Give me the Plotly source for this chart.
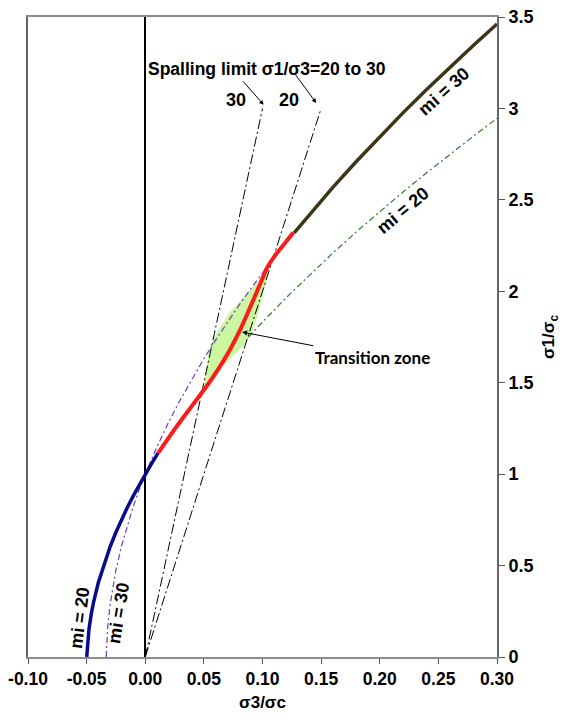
import plotly.graph_objects as go

# ---- data ----
x_tick_vals = [-0.10, -0.05, 0.00, 0.05, 0.10, 0.15, 0.20, 0.25, 0.30]
x_tick_text = ["-0.10", "-0.05", "0.00", "0.05", "0.10", "0.15", "0.20", "0.25", "0.30"]
y_tick_vals = [0, 0.5, 1, 1.5, 2, 2.5, 3, 3.5]
y_tick_text = ["0", "0.5", "1", "1.5", "2", "2.5", "3", "3.5"]

# mi = 20 solid (navy) part
mi20_low_x = [-0.0499, -0.049, -0.048, -0.046, -0.044, -0.040, -0.035, -0.030, -0.025,
              -0.020, -0.015, -0.010, -0.005, 0.000, 0.005, 0.011]
mi20_low_y = [0.0, 0.092, 0.152, 0.237, 0.302, 0.407, 0.513, 0.603, 0.682,
              0.755, 0.822, 0.884, 0.944, 1.000, 1.054, 1.116]

# mi = 20 dash-dot (green) part
mi20_high_x = [0.088, 0.10, 0.12, 0.14, 0.16, 0.18, 0.20, 0.22, 0.24, 0.26, 0.28, 0.30]
mi20_high_y = [1.749, 1.832, 1.964, 2.089, 2.209, 2.325, 2.436, 2.544, 2.648, 2.750, 2.849, 2.946]

# mi = 30 dash-dot (purple) curve
mi30_x = [-0.0333, -0.033, -0.032, -0.030, -0.028, -0.025, -0.020, -0.015, -0.010, -0.005,
          0.000, 0.010, 0.020, 0.030, 0.040, 0.050, 0.060, 0.070, 0.080, 0.090, 0.100,
          0.120, 0.140, 0.160, 0.180, 0.200, 0.220, 0.240, 0.260, 0.280, 0.300]
mi30_y = [0.0, 0.067, 0.168, 0.286, 0.372, 0.475, 0.613, 0.727, 0.827, 0.917,
          1.000, 1.150, 1.285, 1.408, 1.523, 1.631, 1.733, 1.831, 1.924, 2.014, 2.100,
          2.265, 2.420, 2.568, 2.710, 2.846, 2.977, 3.104, 3.227, 3.346, 3.462]

# mi = 30 solid (dark) part
mi30_high_x = [0.127, 0.14, 0.16, 0.18, 0.20, 0.22, 0.24, 0.26, 0.28, 0.30]
mi30_high_y = [2.320, 2.420, 2.568, 2.710, 2.846, 2.977, 3.104, 3.227, 3.346, 3.462]

# transition path (red)
trans_x = [0.011, 0.025, 0.040, 0.052, 0.062, 0.072, 0.081, 0.090, 0.098, 0.104, 0.110, 0.118, 0.1263]
trans_y = [1.116, 1.245, 1.375, 1.478, 1.572, 1.678, 1.790, 1.920, 2.040, 2.130, 2.190, 2.255, 2.322]

# transition zone (green lens)
zone_x = [0.1056, 0.1041, 0.0956, 0.0913, 0.0842, 0.0714, 0.0543, 0.0500,
          0.0543, 0.0600, 0.0714, 0.0985, 0.1056]
zone_y = [2.134, 2.071, 1.861, 1.779, 1.706, 1.624, 1.515, 1.478,
          1.679, 1.761, 1.880, 2.071, 2.134]

# spalling limits sigma1/sigma3 = 30 and 20
spall30_x = [0.0, 0.10]
spall30_y = [0.0, 3.0]
spall20_x = [0.0, 0.15]
spall20_y = [0.0, 3.0]

FONT = "Liberation Sans"

fig = go.Figure()
fig.add_trace(go.Scatter(x=zone_x, y=zone_y, mode="lines", fill="toself",
                         fillcolor="#ccf7a0", line=dict(width=0, color="#ccf7a0")))
fig.add_trace(go.Scatter(x=spall30_x, y=spall30_y, mode="lines",
                         line=dict(color="black", width=1, dash="10px,3px,2px,3px")))
fig.add_trace(go.Scatter(x=spall20_x, y=spall20_y, mode="lines",
                         line=dict(color="black", width=1, dash="10px,3px,2px,3px")))
fig.add_trace(go.Scatter(x=mi30_x, y=mi30_y, mode="lines",
                         line=dict(color="#6a3cc8", width=1.2, dash="6px,3px,2px,3px")))
fig.add_trace(go.Scatter(x=mi20_high_x, y=mi20_high_y, mode="lines",
                         line=dict(color="#2e7d32", width=1.2, dash="6px,3px,2px,3px")))
fig.add_trace(go.Scatter(x=mi20_low_x, y=mi20_low_y, mode="lines",
                         line=dict(color="#0a0a8c", width=3.5)))
fig.add_trace(go.Scatter(x=trans_x, y=trans_y, mode="lines",
                         line=dict(color="#ff1a1a", width=4, shape="spline", smoothing=0.8)))
fig.add_trace(go.Scatter(x=mi30_high_x, y=mi30_high_y, mode="lines",
                         line=dict(color="#3a3616", width=3.5)))

bold = dict(family=FONT, size=18, color="black", weight="bold")

annots = [
    dict(x=0.1039, y=3.216, text="Spalling limit σ1/σ3=20 to 30", showarrow=False,
         font=dict(family=FONT, size=17.5, color="black", weight="bold")),
    dict(x=0.0774, y=3.046, text="30", showarrow=False, font=bold),
    dict(x=0.1226, y=3.046, text="20", showarrow=False, font=bold),
    dict(x=0.101, y=3.02, text="", showarrow=True, ax=-22, ay=-25, arrowhead=2,
         arrowsize=0.9, arrowwidth=1, arrowcolor="black"),
    dict(x=0.1458, y=3.03, text="", showarrow=True, ax=-22, ay=-30, arrowhead=2,
         arrowsize=0.9, arrowwidth=1, arrowcolor="black"),
    dict(x=0.0826, y=1.777, text="Transition zone", showarrow=True, ax=130, ay=25,
         arrowhead=2, arrowsize=1, arrowwidth=1, arrowcolor="black",
         font=dict(family="Lato", size=17, color="black", weight="bold")),
    dict(x=0.2552, y=3.095, text="mi = 30", showarrow=False, textangle=-42, font=bold),
    dict(x=0.2202, y=2.444, text="mi = 20", showarrow=False, textangle=-40, font=bold),
    dict(x=-0.0559, y=0.213, text="mi = 20", showarrow=False, textangle=-83, font=bold),
    dict(x=-0.0226, y=0.24, text="mi = 30", showarrow=False, textangle=-81, font=bold),
]

# page body adds an 8px margin around the figure
fig.update_layout(
    width=553, height=710,
    margin=dict(l=20, r=64, t=9, b=61),
    paper_bgcolor="white", plot_bgcolor="white",
    showlegend=False,
    annotations=annots,
    xaxis=dict(range=[-0.10, 0.30], tickvals=x_tick_vals, ticktext=x_tick_text,
               automargin=False, ticklabeloverflow="allow",
               showgrid=False, zeroline=True, zerolinecolor="black", zerolinewidth=1.5,
               showline=True, linecolor="#8c8c8c", linewidth=1.5, mirror=True,
               ticks="outside", ticklen=5, tickcolor="#555", tickwidth=1,
               tickfont=dict(family=FONT, size=17.5, color="black", weight="bold"),
               title=dict(text="σ3/σc", font=dict(family=FONT, size=17, color="black", weight="bold"),
                          standoff=8)),
    yaxis=dict(range=[0, 3.5], tickvals=y_tick_vals, ticktext=y_tick_text, side="right",
               automargin=False, ticklabeloverflow="allow",
               showgrid=False, zeroline=False,
               showline=True, linecolor="#666", linewidth=2, mirror=True,
               ticks="outside", ticklen=6, tickcolor="#555", tickwidth=1,
               tickfont=dict(family=FONT, size=18, color="black", weight="bold"),
               title=dict(text="σ1/σ<sub>c</sub>", font=dict(family=FONT, size=17, color="black", weight="bold"),
                          standoff=10)),
)

fig.write_html("out.html")
